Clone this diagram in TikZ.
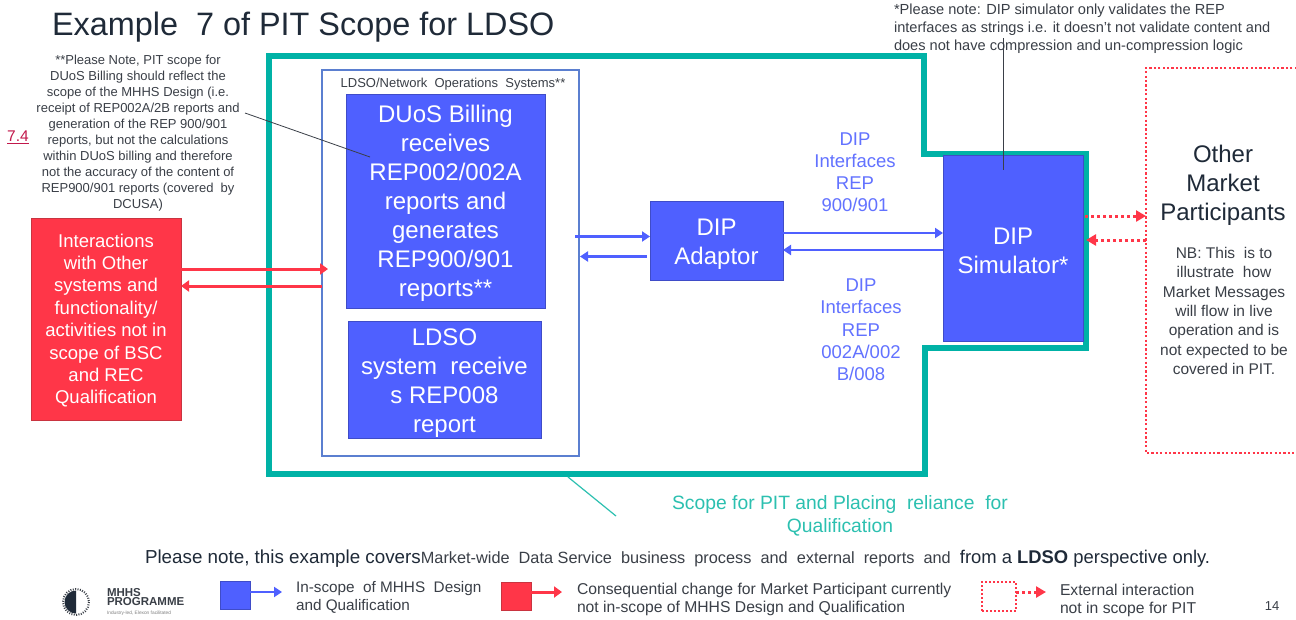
\documentclass[tikz,border=0pt]{standalone}
\usepackage{fontspec}
\setmainfont{Liberation Sans}
\usetikzlibrary{arrows.meta,calc}
\definecolor{mhblue}{HTML}{4F60FF}
\definecolor{mhblueb}{HTML}{3F4CC8}
\definecolor{mhred}{HTML}{FF3648}
\definecolor{mhredb}{HTML}{C93440}
\definecolor{mhteal}{HTML}{00B2A6}
\definecolor{mhtealt}{HTML}{2CC0B0}
\definecolor{mhinner}{HTML}{5B7FD0}
\definecolor{mhtext}{HTML}{3A3F47}
\definecolor{mhdark}{HTML}{1F2A38}
\definecolor{mhlink}{HTML}{C2184B}
\definecolor{mhblab}{HTML}{6272FF}
\newcommand{\fsz}[2]{\fontsize{#1pt}{#2pt}\selectfont}
\newcommand{\tstrut}[1]{\rule{0pt}{#1pt}}
\tikzset{
  x=1pt,y=-1pt,
  every node/.style={inner sep=0pt,outer sep=0pt},
  bluebox/.style={draw=mhblueb,fill=mhblue,line width=1pt,text=white,align=center,anchor=north west},
  redbox/.style={draw=mhredb,fill=mhred,line width=1pt,text=white,align=center,anchor=north west},
  label/.style={align=center,text=mhtext},
  bluearrow/.style={draw=mhblue,line width=2.8pt,-{Triangle[length=8pt,width=10pt]}},
  redarrow/.style={draw=mhred,line width=3pt,-{Triangle[length=8pt,width=11pt]}},
  dotarrow/.style={draw=mhred,line width=3pt,dash pattern=on 3pt off 3pt,-{Triangle[length=10pt,width=11pt,sep=0pt]}},
  leader/.style={draw=mhtext,line width=0.8pt},
  legend/.style={align=left,anchor=west,text=mhtext,font=\fsz{15.7}{18}},
}
\begin{document}
\begin{tikzpicture}
\useasboundingbox (0,0) rectangle (1296,619);
\fill[white] (0,0) rectangle (1296,619);

% title
\node[anchor=west,text=mhdark,font=\fsz{32.4}{34}] (title) at (52,27) {Example\ \ 7 of PIT Scope for LDSO};

% scope outline
\draw[mhteal,line width=6.5pt,miter limit=10] (269,56) -- (924,56) -- (924,154) -- (1086,154) -- (1086,348) -- (925,348) -- (925,474) -- (269,474) -- cycle;
\coordinate (scopeb) at (568,477);
\coordinate (scopee) at (616,516);
\draw[mhtealt,line width=1.2pt] (scopeb) -- (scopee);

% inner system box
\node[draw=mhinner,line width=2pt,anchor=north west,minimum width=257pt,minimum height=386pt] (sys) at (322,70) {};
\node[anchor=center,text=mhtext,font=\fsz{13}{14}] (systitle) at (453,84) {LDSO/Network\ \ Operations\ \ Systems**};

\node[bluebox,minimum width=199pt,minimum height=214pt,font=\fsz{24}{29}] (duos) at (346,94)
 {\tstrut{21.5}DUoS Billing\\receives\\REP002/002A\\reports and\\generates\\REP900/901\\reports**};
\node[bluebox,minimum width=193pt,minimum height=117pt,font=\fsz{24}{29}] (ldso) at (348,321)
 {\tstrut{23.5}LDSO\\system\ \ receive\\s REP008\\report};
\node[bluebox,minimum width=133pt,minimum height=79pt,font=\fsz{24}{29}] (adaptor) at (650,201)
 {\tstrut{23.5}DIP\\Adaptor};
\node[bluebox,minimum width=140pt,minimum height=186pt,font=\fsz{24}{29}] (sim) at (943,155)
 {\tstrut{21.5}DIP\\Simulator*};
\node[redbox,minimum width=150pt,minimum height=202pt,font=\fsz{18.5}{22.4}] (other) at (31,218)
 {\tstrut{16.5}Interactions\\with Other\\systems and\\functionality/\\activities not in\\scope of BSC\\and REC\\Qualification};

% external box: it runs off the right edge
\draw[mhred,line width=2.2pt,dash pattern=on 2.2pt off 2.2pt] (1310,68) -- (1146,68) -- (1146,453) -- (1310,453);
\coordinate (extup) at (1146,216);
\coordinate (extlo) at (1146,240);
\node[label,text=mhdark,font=\fsz{24}{29}] (market) at (1223,185) {Other\\Market\\Participants};
\node[label,font=\fsz{15.5}{19.4}] (nb) at (1224,311) {NB: This\ \ is to\\illustrate\ \ how\\Market Messages\\will flow in live\\operation and is\\not expected to be\\covered in PIT.};

% connectors
\draw[redarrow] ([yshift=50pt]other.east) -- ([xshift=6pt,yshift=-6pt]sys.west);
\draw[redarrow] ([yshift=-23pt]sys.west) -- ([yshift=33pt]other.east);
\draw[bluearrow] ([xshift=-75pt,yshift=4pt]adaptor.west) -- ([yshift=4pt]adaptor.west);
\draw[bluearrow] ([xshift=-3pt,yshift=-16pt]adaptor.west) -- ([xshift=-70pt,yshift=-16pt]adaptor.west);
\draw[bluearrow] ([yshift=7.5pt]adaptor.east) -- ([yshift=15pt]sim.west);
\draw[bluearrow] ([yshift=-2pt]sim.west) -- ([yshift=-9.5pt]adaptor.east);
\draw[dotarrow] ([xshift=2pt,yshift=32pt]sim.east) -- (extup);
\draw[dotarrow] (extlo) -- ([xshift=3pt,yshift=8pt]sim.east);

% interface labels
\node[align=center,text=mhblab,font=\fsz{18.5}{22}] (dipa) at (855,172) {DIP\\Interfaces\\REP\\900/901};
\node[align=center,text=mhblab,font=\fsz{18.5}{22.3}] (dipb) at (861,330) {DIP\\Interfaces\\REP\\002A/002\\B/008};

% notes
\node[label,font=\fsz{13}{16}] (pnote) at (138,133) {**Please Note, PIT scope for\\DUoS Billing should reflect the\\scope of the MHHS Design (i.e.\\receipt of REP002A/2B reports and\\generation of the REP 900/901\\reports, but not the calculations\\within DUoS billing and therefore\\not the accuracy of the content of\\REP900/901 reports (covered\ \ by\\DCUSA)};
\node[anchor=north west,align=left,text=mhtext,font=\fsz{14.6}{18.3}] (snote) at (894,3.5) {*Please note: DIP simulator only validates the REP\\interfaces as strings i.e. it doesn't not validate content and\\does not have compression and un-compression logic};
\coordinate (pl) at (245,113);
\coordinate (pr) at (370,157);
\coordinate (sl) at (1003,38);
\coordinate (sr) at (1003,170);
\draw[leader] (pl) -- (pr);
\draw[leader] (sl) -- (sr);

\node[text=mhlink,font=\fsz{15.5}{18}] (link) at (18,137) {\underline{7.4}};

\node[align=center,text=mhtealt,font=\fsz{19.3}{22.5}] (scope) at (840,516) {Scope for PIT and Placing\ \ reliance\ \ for\\Qualification};

% bottom line
\node[anchor=west,font=\fsz{16.3}{18},text=mhtext] (cover) at (145,558.5) {{\fsz{18.8}{18}\color{mhdark}Please note, this example covers}Market-wide\ \ Data Service\ \ business\ \ process\ \ and\ \ external\ \ reports\ \ and\ \ {\fsz{18.4}{18}\color{mhdark}from a \textbf{LDSO} perspective only.}};

% legend
\node[draw=mhblueb,fill=mhblue,line width=1pt,anchor=north west,minimum width=30pt,minimum height=28pt] (lgblue) at (220,581) {};
\coordinate (lgbluee) at (282,592);
\draw[bluearrow] (lgblue.east |- lgbluee) -- (lgbluee);
\node[legend,font=\fsz{15.3}{18}] (lgbluet) at (296,597.5) {In-scope\ \ of MHHS\ \ Design\\and Qualification};

\node[draw=mhredb,fill=mhred,line width=1pt,anchor=north west,minimum width=30pt,minimum height=28pt] (lgred) at (501,582) {};
\coordinate (lgrede) at (562,592);
\draw[redarrow] (lgred.east |- lgrede) -- (lgrede);
\node[legend] (lgredt) at (577,599.5) {Consequential change for Market Participant currently\\not in-scope of MHHS Design and Qualification};

\node[draw=mhred,line width=2pt,dash pattern=on 2pt off 2pt,anchor=north west,minimum width=34pt,minimum height=29pt] (lgext) at (982,582) {};
\coordinate (lgexte) at (1046,592);
\draw[dotarrow] (lgext.east |- lgexte) -- (lgexte);
\node[legend] (lgextt) at (1060,600.5) {External interaction\\not in scope for PIT};

\node[text=mhtext,font=\fsz{13}{15}] (page) at (1272,606) {14};

% logo
\draw[mhtext,line width=2pt,dash pattern=on 1pt off 1.4pt] (76,602) circle (13);
\begin{scope}
\clip (60,585) rectangle (76,620);
\fill[mhdark] (76,602) circle (11.5);
\end{scope}
\node[anchor=north west,align=left,text=mhtext,font=\fsz{11.5}{9}\bfseries] (logo) at (107,588.5) {MHHS\\PROGRAMME};
\node[anchor=west,text=gray,font=\fsz{4.8}{5}] (logos) at (107,613) {Industry-led, Elexon facilitated};
\end{tikzpicture}
\end{document}
